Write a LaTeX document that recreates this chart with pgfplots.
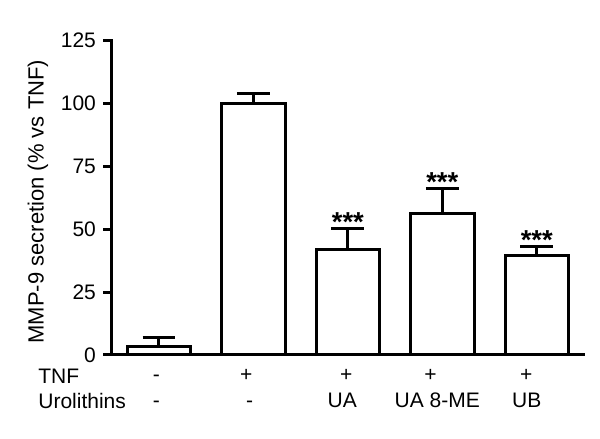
\documentclass[border=0pt]{standalone}
\usepackage{pgfplots}
\pgfplotsset{compat=1.18}
\usepackage{pgfplotstable}
\usepackage{fontspec}
\setmainfont{Liberation Sans}
\pgfplotstableread{
x y e
0 3.3 3.7
1 100.1 3.9
2 41.8 8.6
3 56.1 10.2
4 39.5 3.6
}\bars
\pgfplotstableread{
x y
2 50.4
3 66.3
4 43.1
}\stars
\begin{document}
\fontsize{10.5}{12}\selectfont
\begin{tikzpicture}
\useasboundingbox (-55.85pt,-42pt) rectangle (244.15pt,177.5pt);
\begin{axis}[
  scale only axis,
  width=236.15pt, height=157.15pt,
  xmin=-0.5, xmax=4.5, ymin=0, ymax=125,
  axis x line*=bottom, axis y line*=left,
  axis line style={line width=1.5pt, line cap=rect},
  ytick={0,25,50,75,100,125},
  /pgf/number format/assume math mode=true,
  tick align=outside,
  major tick length=4.2pt,
  every tick/.style={line width=1.5pt, black},
  xtick={-0.028,0.925,1.983,2.876,3.890},
  xticklabels={-,+,+,+,+},
  x tick style={draw=none},
  xticklabel style={anchor=base, yshift=-9.15pt},
  extra x ticks={-0.028,0.960,1.940,2.946,3.894},
  extra x tick labels={-,-,UA,UA 8-ME,UB},
  extra x tick style={xticklabel style={yshift=-12.85pt}, tick style={draw=none}},
  ylabel={MMP-9 secretion (\% vs TNF)},
  ylabel style={at={(axis description cs:-0.1444,0.488)}, anchor=base, font=\fontsize{11}{12}\selectfont},
]
\addplot[ybar, bar width=31.75pt, bar shift=0pt, fill=white, draw=black,
  line width=1.5pt, line join=miter,
  error bars/.cd, y dir=plus, y explicit,
  error bar style={line width=1.5pt, black},
  error mark options={line width=1.5pt, mark size=8.2pt, black, rotate=90}]
  table[x=x, y=y, y error=e] {\bars};
\addplot[draw=none, mark=none, nodes near coords={***},
  every node near coord/.style={anchor=base, yshift=-1.5pt, font=\fontsize{13.7}{14}\selectfont\bfseries}]
  table[x=x, y=y] {\stars};
\end{axis}
\node[anchor=base west, inner sep=0pt] at (-36.85pt,-14.15pt) {TNF};
\node[anchor=base west, inner sep=0pt] at (-36.85pt,-27pt) {Urolithins};
\end{tikzpicture}
\end{document}
